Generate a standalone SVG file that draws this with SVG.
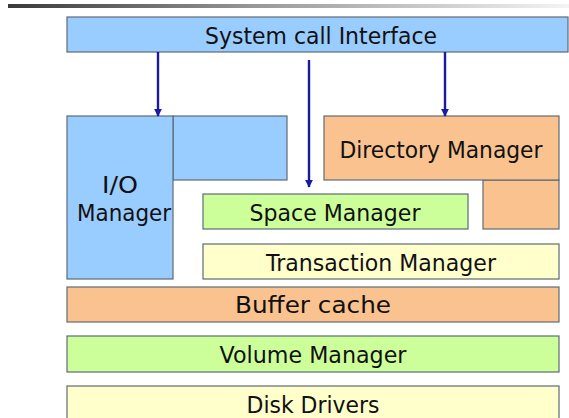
<svg xmlns="http://www.w3.org/2000/svg" width="569" height="418" viewBox="0 0 569 418">
  <defs>
    <linearGradient id="rule" x1="0" y1="0" x2="1" y2="0">
      <stop offset="0" stop-color="#3a3a3a"/>
      <stop offset="0.45" stop-color="#9a9a9a"/>
      <stop offset="1" stop-color="#f4f4f4"/>
    </linearGradient>
    <marker id="arrow" viewBox="0 0 10 10" refX="9" refY="5" markerWidth="8" markerHeight="8" orient="auto" markerUnits="userSpaceOnUse">
      <path d="M0,0 L10,5 L0,10 z" fill="#1a1aa0"/>
    </marker>
    <style>
      .box { stroke: #5f6b74; stroke-width: 1.2; }
      .blue { fill: #99ccff; }
      .peach { fill: #fac28f; }
      .green { fill: #ccff99; }
      .cream { fill: #ffffcc; }
      .lbl { font-family: "DejaVu Sans", Verdana, sans-serif; font-size: 22.5px; fill: #111; text-anchor: middle; }
      .conn { stroke: #1a1aa0; stroke-width: 2.4; fill: none; }
    </style>
  </defs>

  <rect x="8" y="4" width="561" height="4" fill="url(#rule)"/>

  <g id="syscall">
    <rect class="box blue" x="67" y="17" width="501" height="35"/>
    <text class="lbl" x="321" y="44" textLength="232" lengthAdjust="spacingAndGlyphs">System call Interface</text>
  </g>

  <g id="io-manager">
    <rect class="box blue" x="173" y="116" width="114" height="64"/>
    <rect class="box blue" x="67" y="116" width="106" height="163"/>
    <text class="lbl" x="120" y="193" textLength="36" lengthAdjust="spacingAndGlyphs">I/O</text>
    <text class="lbl" x="124" y="221" textLength="94" lengthAdjust="spacingAndGlyphs">Manager</text>
  </g>

  <g id="directory-manager">
    <rect class="box peach" x="483" y="180" width="76" height="49"/>
    <rect class="box peach" x="324" y="116" width="235" height="64"/>
    <text class="lbl" x="441" y="158" textLength="203" lengthAdjust="spacingAndGlyphs">Directory Manager</text>
  </g>

  <g id="space-manager">
    <rect class="box green" x="203" y="194" width="265" height="35"/>
    <text class="lbl" x="335" y="221" textLength="171" lengthAdjust="spacingAndGlyphs">Space Manager</text>
  </g>

  <g id="transaction-manager">
    <rect class="box cream" x="203" y="244" width="356" height="35"/>
    <text class="lbl" x="381" y="271" textLength="230" lengthAdjust="spacingAndGlyphs">Transaction Manager</text>
  </g>

  <g id="buffer-cache">
    <rect class="box peach" x="67" y="287" width="492" height="35"/>
    <text class="lbl" x="313" y="313" textLength="156" lengthAdjust="spacingAndGlyphs">Buffer cache</text>
  </g>

  <g id="volume-manager">
    <rect class="box green" x="67" y="336" width="492" height="36"/>
    <text class="lbl" x="313" y="363" textLength="187" lengthAdjust="spacingAndGlyphs">Volume Manager</text>
  </g>

  <g id="disk-drivers">
    <rect class="box cream" x="67" y="386" width="492" height="40"/>
    <text class="lbl" x="313" y="413" textLength="133" lengthAdjust="spacingAndGlyphs">Disk Drivers</text>
  </g>

  <g id="connectors">
    <line class="conn" x1="158" y1="52" x2="158" y2="116" marker-end="url(#arrow)"/>
    <line class="conn" x1="309" y1="60" x2="309" y2="187" marker-end="url(#arrow)"/>
    <line class="conn" x1="445" y1="52" x2="445" y2="116" marker-end="url(#arrow)"/>
  </g>
</svg>
